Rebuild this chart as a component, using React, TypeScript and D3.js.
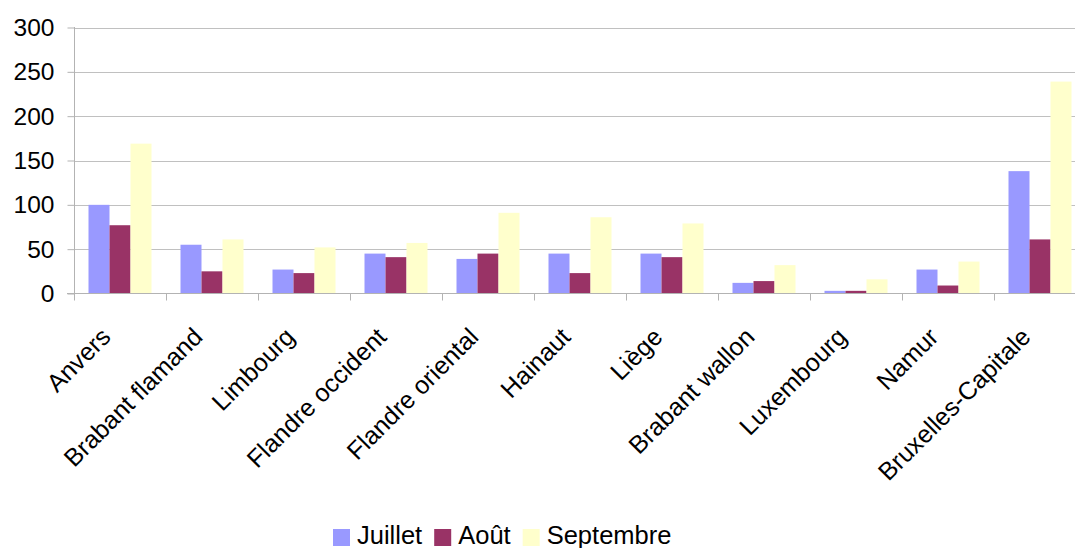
import { useEffect, useRef } from "react";
import * as d3 from "d3";

const WIDTH = 1075;
const HEIGHT = 548;
const MARGIN = { top: 27, left: 74, bottom: 255 };
const PLOT_RIGHT = 1086; // plot goes past the right edge of the picture

const provinces = [
  "Anvers",
  "Brabant flamand",
  "Limbourg",
  "Flandre occident",
  "Flandre oriental",
  "Hainaut",
  "Liège",
  "Brabant wallon",
  "Luxembourg",
  "Namur",
  "Bruxelles-Capitale",
];

const months = ["Juillet", "Août", "Septembre"];
const colors = ["#9999ff", "#993366", "#ffffcc"];

const juillet = [100, 55, 27, 45, 39, 45, 45, 12, 3, 27, 138];
const aout = [77, 25, 23, 41, 45, 23, 41, 14, 3, 9, 61];
const septembre = [169, 61, 52, 57, 91, 86, 79, 32, 16, 36, 239];

const yTicks = [0, 50, 100, 150, 200, 250, 300];

const FONT = "'Liberation Sans', Arial, sans-serif";

const App = () => {
  const svgRef = useRef(null);

  useEffect(() => {
    const svg = d3.select(svgRef.current);
    svg.selectAll("*").remove();

    const series = [juillet, aout, septembre];
    const boundsBottom = HEIGHT - MARGIN.bottom + 0.5;

    const yScale = d3
      .scaleLinear()
      .domain([0, 300])
      .range([boundsBottom, MARGIN.top + 0.5]);

    const xScale = d3
      .scaleBand()
      .domain(provinces)
      .range([MARGIN.left, PLOT_RIGHT])
      .paddingInner(29 / 92)
      .paddingOuter(29 / 184);

    const xSub = d3
      .scaleBand()
      .domain(months)
      .range([0, xScale.bandwidth()]);

    const step = xScale.step();
    const catStart = (p) => MARGIN.left + provinces.indexOf(p) * step;

    // grid lines
    svg
      .append("g")
      .selectAll("line")
      .data(yTicks.filter((t) => t > 0))
      .join("line")
      .attr("x1", MARGIN.left)
      .attr("x2", PLOT_RIGHT)
      .attr("y1", (d) => Math.round(yScale(d)) + 0.5)
      .attr("y2", (d) => Math.round(yScale(d)) + 0.5)
      .attr("stroke", "#c0c0c0")
      .attr("stroke-width", 1);

    // bars
    const groups = svg
      .append("g")
      .selectAll("g")
      .data(provinces)
      .join("g")
      .attr("transform", (p) => `translate(${xScale(p)},0)`);

    groups
      .selectAll("rect")
      .data((p, i) => months.map((m, j) => ({ m, j, v: series[j][i] })))
      .join("rect")
      .attr("x", (d) => xSub(d.m))
      .attr("width", xSub.bandwidth())
      .attr("y", (d) => yScale(d.v))
      .attr("height", (d) => boundsBottom - yScale(d.v))
      .attr("fill", (d) => colors[d.j]);

    // y axis
    const yAxis = d3
      .axisLeft(yScale)
      .tickValues(yTicks)
      .tickSize(7)
      .tickPadding(13);
    svg
      .append("g")
      .attr("transform", `translate(${MARGIN.left + 0.5},0)`)
      .call(yAxis)
      .call((g) => g.selectAll("line, path").attr("stroke", "#b3b3b3"))
      .call((g) => g.select(".domain").attr("d", `M0,${MARGIN.top}V${boundsBottom}`))
      .selectAll("text")
      .attr("font-size", 24.5)
      .attr("font-family", FONT)
      .attr("fill", "#000");

    // x axis line and ticks
    const xAxisG = svg.append("g");
    xAxisG
      .append("line")
      .attr("x1", MARGIN.left - 7)
      .attr("x2", PLOT_RIGHT)
      .attr("y1", boundsBottom)
      .attr("y2", boundsBottom)
      .attr("stroke", "#b3b3b3");
    xAxisG
      .selectAll(".tick")
      .data(provinces)
      .join("line")
      .attr("class", "tick")
      .attr("x1", (p) => Math.round(catStart(p)) + 0.5)
      .attr("x2", (p) => Math.round(catStart(p)) + 0.5)
      .attr("y1", boundsBottom)
      .attr("y2", boundsBottom + 7)
      .attr("stroke", "#b3b3b3");

    // category labels, rotated
    xAxisG
      .selectAll("text")
      .data(provinces)
      .join("text")
      .attr(
        "transform",
        (p) => `translate(${xScale(p) + xScale.bandwidth() / 2 - 8},${boundsBottom + 45}) rotate(-45)`
      )
      .attr("text-anchor", "end")
      .attr("font-size", 25)
      .attr("font-family", FONT)
      .attr("fill", "#000")
      .text((p) => p);

    // legend
    const legend = svg.append("g").attr("transform", `translate(333, 529)`);
    let lx = 0;
    months.forEach((m, j) => {
      legend
        .append("rect")
        .attr("x", lx)
        .attr("y", 0)
        .attr("width", 17)
        .attr("height", 17)
        .attr("fill", colors[j]);
      const t = legend
        .append("text")
        .attr("x", lx + 24)
        .attr("y", 14.5)
        .attr("font-size", 25.5)
        .attr("font-family", FONT)
        .attr("fill", "#000")
        .text(m);
      const w = (t.node() as SVGTextElement).getComputedTextLength();
      lx += 24 + w + 12;
    });
  }, []);

  return (
    <svg
      ref={svgRef}
      width={WIDTH}
      height={HEIGHT}
      style={{ position: "absolute", left: 0, top: 0, display: "block", background: "#fff" }}
    ></svg>
  );
};

export default App;
